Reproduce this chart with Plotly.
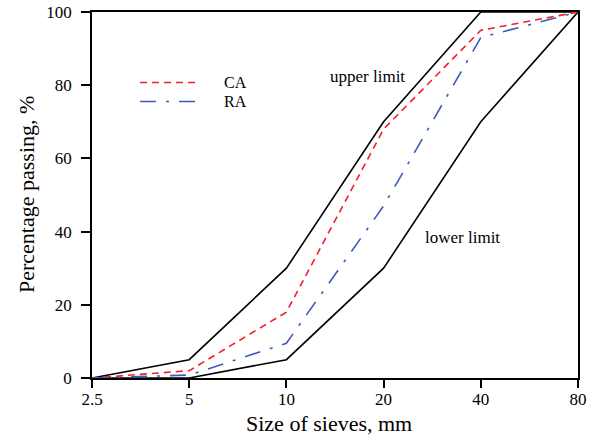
import plotly.graph_objects as go

sizes = [2.5, 5, 10, 20, 40, 80]
tick_labels = ["2.5", "5", "10", "20", "40", "80"]
upper_limit = [0, 5, 30, 70, 100, 100]
lower_limit = [0, 0, 5, 30, 70, 100]
ca = [0, 2, 18, 68, 95, 100]
ra = [0, 0.8, 9.5, 47, 93, 100]

font_family = "Liberation Serif"
ca_color = "#f0202a"
ra_color = "#3c5cb8"
ca_dash = "7px,5px"
ra_dash = "16px,10px,3px,10px"

# plot area in px: left 92, right 578, top 12, bottom 378
PW, PH = 486, 366
def px_x(px):
    return (px - 92) / PW
def px_y(py):
    return (378 - py) / PH

fig = go.Figure()
fig.add_trace(go.Scatter(x=sizes, y=upper_limit, mode="lines", line=dict(color="black", width=1.6),
                         showlegend=False))
fig.add_trace(go.Scatter(x=sizes, y=lower_limit, mode="lines", line=dict(color="black", width=1.6),
                         showlegend=False))
fig.add_trace(go.Scatter(x=sizes, y=ca, mode="lines", name="CA", showlegend=False,
                         line=dict(color=ca_color, width=1.6, dash=ca_dash)))
fig.add_trace(go.Scatter(x=sizes, y=ra, mode="lines", name="RA", showlegend=False,
                         line=dict(color=ra_color, width=1.6, dash=ra_dash)))

# manual legend
for name, color, dash, py in [("CA", ca_color, ca_dash, 82.5), ("RA", ra_color, ra_dash, 101.5)]:
    fig.add_shape(type="line", xref="paper", yref="paper", x0=px_x(140), x1=px_x(196),
                  y0=px_y(py), y1=px_y(py), line=dict(color=color, width=1.6, dash=dash))
    fig.add_annotation(x=px_x(222), y=px_y(py), xref="paper", yref="paper", text=name, showarrow=False,
                       xanchor="left", yanchor="middle", font=dict(size=16, color="black", family=font_family))

fig.add_annotation(x=px_x(367), y=px_y(77), xref="paper", yref="paper", text="upper limit", showarrow=False,
                   xanchor="center", yanchor="middle", font=dict(size=17, color="black", family=font_family))
fig.add_annotation(x=px_x(462), y=px_y(237), xref="paper", yref="paper", text="lower limit", showarrow=False,
                   xanchor="center", yanchor="middle", font=dict(size=17, color="black", family=font_family))

# axis titles
fig.add_annotation(x=px_x(329), y=px_y(424), xref="paper", yref="paper", text="Size of sieves, mm",
                   showarrow=False, xanchor="center", yanchor="middle",
                   font=dict(size=22, color="black", family=font_family))
fig.add_annotation(x=px_x(26), y=px_y(195), xref="paper", yref="paper", text="Percentage passing, %",
                   showarrow=False, xanchor="center", yanchor="middle", textangle=-90,
                   font=dict(size=22, color="black", family=font_family))

fig.update_layout(
    width=595, height=438,
    margin=dict(l=92, r=17, t=12, b=60),
    paper_bgcolor="white", plot_bgcolor="white",
    font=dict(family=font_family, color="black", size=17),
    showlegend=False,
)
fig.update_xaxes(type="log", range=[0.39794, 1.90309], tickvals=sizes, ticktext=tick_labels,
                 showgrid=False, zeroline=False, showline=True, linecolor="black", linewidth=1.5,
                 mirror=True, ticks="outside", ticklen=8, tickwidth=1.5, tickcolor="black",
                 tickfont=dict(size=17, family=font_family), ticklabelstandoff=-3, automargin=False)
fig.update_yaxes(range=[0, 100], tickvals=[0, 20, 40, 60, 80, 100],
                 showgrid=False, zeroline=False, showline=True, linecolor="black", linewidth=1.5,
                 mirror=True, ticks="outside", ticklen=9, tickwidth=1.5, tickcolor="black",
                 tickfont=dict(size=17, family=font_family), ticklabelstandoff=6, automargin=False)

fig.write_html("out.html")
